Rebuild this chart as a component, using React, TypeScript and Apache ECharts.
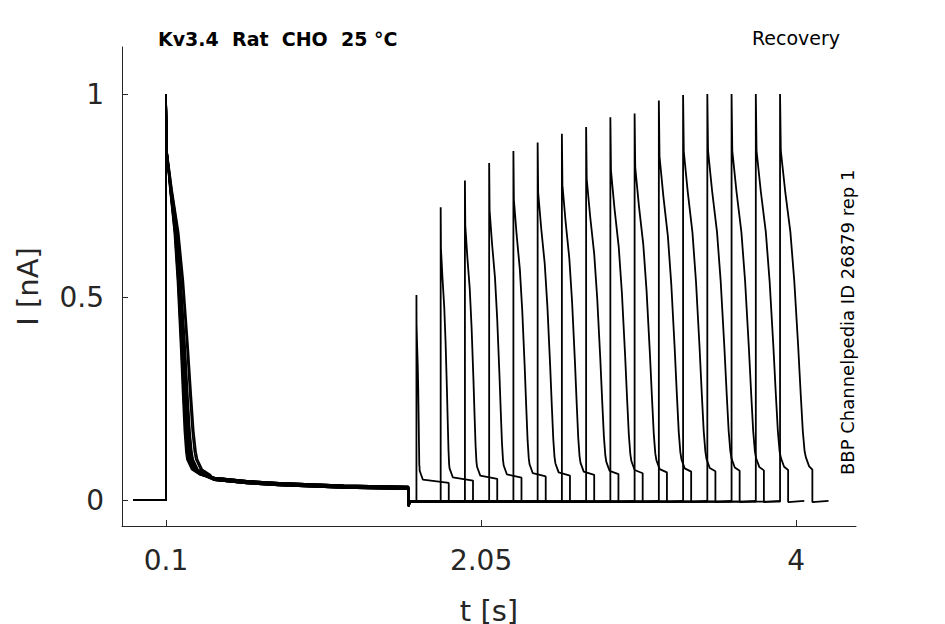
import { useEffect, useRef } from 'react'
import * as echarts from 'echarts'

// second-pulse onset times (s) and peak currents (nA) per sweep
const pulseTimes = [1.65, 1.8, 1.95, 2.1, 2.25, 2.4, 2.55, 2.7, 2.85, 3.0, 3.15, 3.3, 3.45, 3.6, 3.75, 3.9]
const pulsePeaks = [0.505, 0.721, 0.787, 0.83, 0.86, 0.881, 0.902, 0.919, 0.943, 0.952, 0.984, 0.998, 1, 1, 1, 1]
// time (s) from onset until the current reaches the tail level
const pulseKnee = [0.02, 0.055, 0.075, 0.09, 0.1, 0.11, 0.115, 0.125, 0.13, 0.135, 0.14, 0.145, 0.15, 0.152, 0.155, 0.16]
const pulseTail = [0.042, 0.048, 0.052, 0.055, 0.058, 0.06, 0.062, 0.064, 0.066, 0.068, 0.07, 0.071, 0.072, 0.073, 0.074, 0.075]
// first-pulse knee time per sweep (spread of the overlaid traces)
const firstKnee = [0.13, 0.135, 0.14, 0.142, 0.145, 0.148, 0.15, 0.152, 0.155, 0.158, 0.16, 0.162, 0.165, 0.168, 0.185, 0.195]
// inactivation shape: [fraction of knee time, fraction of peak]
const shape: [number, number][] = [
  [0, 1], [0.03, 0.86], [0.2, 0.76], [0.4, 0.66], [0.55, 0.54], [0.7, 0.38], [0.8, 0.26], [0.88, 0.17], [0.95, 0.12],
]
// slow first-pulse tail: [time s, current nA]
const firstTail: [number, number][] = [[0.4, 0.055], [0.6, 0.047], [0.8, 0.042], [1.2, 0.036], [1.6, 0.033]]
const xTicks = [0.1, 2.05, 4]
const yTicks = [0, 0.5, 1]

function sweep(i: number): [number, number][] {
  const pts: [number, number][] = [[-0.1, 0], [0.1, 0]]
  shape.forEach(([u, v]) => pts.push([0.1 + u * firstKnee[i], v]))
  pts.push([0.1 + firstKnee[i], 0.1], [0.1 + firstKnee[i] + 0.03, 0.075], [0.1 + firstKnee[i] + 0.08, 0.062])
  firstTail.forEach((p) => pts.push([p[0], p[1] - (i % 4) * 0.002]))
  const tp = pulseTimes[i]
  pts.push([1.6, -0.015], [1.612, -0.004], [tp, -0.004])
  shape.forEach(([u, v]) => pts.push([tp + u * pulseKnee[i], Math.max(v * pulsePeaks[i], pulseTail[i] + 0.04)]))
  pts.push([tp + pulseKnee[i], pulseTail[i] + 0.03], [tp + pulseKnee[i] + 0.02, pulseTail[i] + 0.008], [tp + 0.2, pulseTail[i]])
  pts.push([tp + 0.2, -0.005], [tp + 0.3, -0.002])
  return pts
}

export default function App() {
  const ref = useRef<HTMLDivElement | null>(null)

  useEffect(() => {
    if (!ref.current) return
    document.body.style.margin = '0'
    const chart = echarts.init(ref.current, undefined, { renderer: 'svg' })
    const font = 'DejaVu Sans'
    const axisColor = '#262626'
    chart.setOption({
      animation: false,
      textStyle: { fontFamily: font },
      grid: { left: 122, right: 89, top: 47, bottom: 98, outerBoundsMode: 'none', containLabel: false },
      xAxis: {
        type: 'value', min: -0.172, max: 4.37,
        name: 't [s]', nameLocation: 'middle', nameGap: 70,
        nameTextStyle: { fontSize: 29, color: axisColor, fontFamily: font },
        axisLine: { onZero: false, lineStyle: { color: axisColor } },
        axisTick: { customValues: xTicks, inside: true, length: 6, lineStyle: { color: axisColor } },
        axisLabel: { customValues: xTicks, fontSize: 28, color: axisColor, margin: 20, formatter: (v: number) => String(v) },
        splitLine: { show: false },
      },
      yAxis: {
        type: 'value', min: -0.064, max: 1.116,
        name: 'I [nA]', nameLocation: 'middle', nameGap: 80,
        nameTextStyle: { fontSize: 29, color: axisColor, fontFamily: font },
        axisLine: { show: true, onZero: false, lineStyle: { color: axisColor } },
        axisTick: { show: true, customValues: yTicks, inside: true, length: 6, lineStyle: { color: axisColor } },
        axisLabel: { customValues: yTicks, fontSize: 28, color: axisColor, margin: 18, formatter: (v: number) => String(v) },
        splitLine: { show: false },
      },
      graphic: [
        { type: 'text', left: 158, top: 29, style: { text: 'Kv3.4  Rat  CHO  25 °C', font: `bold 19px "${font}"`, fill: '#000' } },
        { type: 'text', right: 105, top: 28, style: { text: 'Recovery', font: `19px "${font}"`, fill: '#000' } },
        { type: 'text', x: 838, y: 475, rotation: Math.PI / 2, style: { text: 'BBP Channelpedia ID 26879 rep 1', font: `18px "${font}"`, fill: '#000' } },
      ],
      series: pulseTimes.map((_, i) => ({
        type: 'line', data: sweep(i), showSymbol: false, silent: true,
        lineStyle: { color: '#000', width: 1.8 },
      })),
    })
    return () => chart.dispose()
  }, [])

  return <div ref={ref} style={{ width: 945, height: 624 }} />
}
